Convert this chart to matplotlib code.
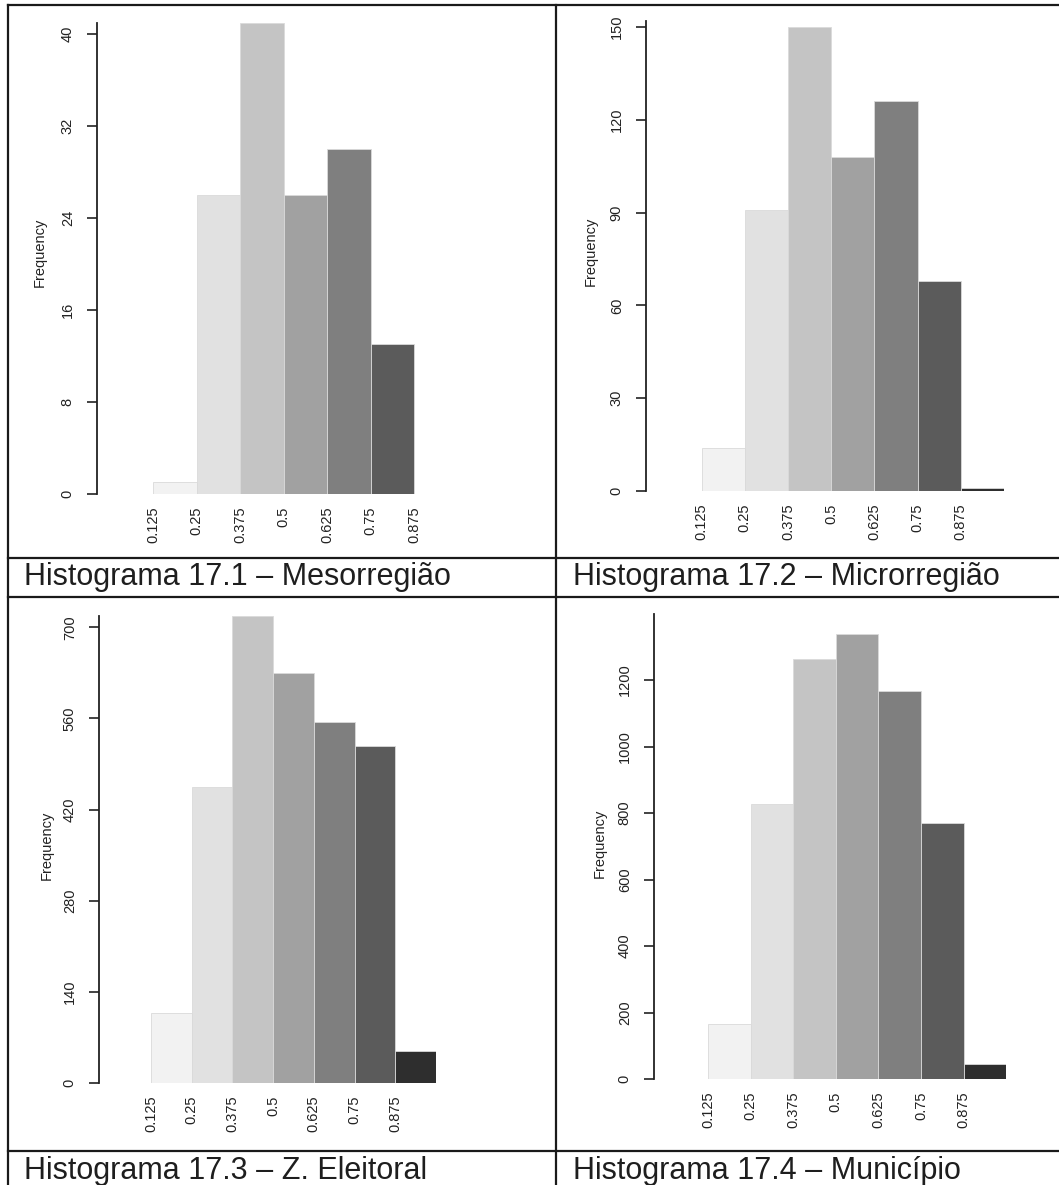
import numpy as np
import matplotlib
matplotlib.use("Agg")
import matplotlib.pyplot as plt
from matplotlib.lines import Line2D

plt.rcParams['font.family'] = ['Liberation Sans', 'DejaVu Sans']

# data
edges = [0.125, 0.25, 0.375, 0.5, 0.625, 0.75, 0.875, 1.0]
tick_labels = ["0.125", "0.25", "0.375", "0.5", "0.625", "0.75", "0.875"]
grays = ["#f2f2f2", "#e1e1e1", "#c4c4c4", "#a1a1a1", "#7f7f7f", "#5b5b5b", "#2e2e2e"]

meso = [1, 26, 41, 26, 30, 13]
micro = [14, 91, 150, 108, 126, 68, 1]
zona = [108, 455, 717, 630, 555, 518, 49]
muni = [166, 827, 1264, 1339, 1168, 770, 46]

meso_ticks = [0, 8, 16, 24, 32, 40]
micro_ticks = [0, 30, 60, 90, 120, 150]
zona_ticks = [0, 140, 280, 420, 560, 700]
muni_ticks = [0, 200, 400, 600, 800, 1000, 1200]

captions = ["Histograma 17.1 – Mesorregião", "Histograma 17.2 – Microrregião",
            "Histograma 17.3 – Z. Eleitoral", "Histograma 17.4 – Município"]

W, H = 1059, 1185
fig = plt.figure(figsize=(W / 100, H / 100), dpi=100)

def px(x, y):
    return x / W, 1 - y / H

# panel layout in pixels: x of first edge, px per bin, y of zero, px per unit,
# y limit, top of axis line, x of axis line, frequency label x
panels = [
    (meso, meso_ticks, 153, 43.5, 494, 11.5, 42, 41, 97, 40),
    (micro, micro_ticks, 701.5, 43.2, 491, 3.093, 155, 152, 646, 591),
    (zona, zona_ticks, 151, 40.7, 1083, 0.651, 730, 717, 99, 47),
    (muni, muni_ticks, 708, 42.6, 1079, 0.3325, 1420, 1400, 654, 600),
]

for counts, yt, x0, bw, y0, sc, ytop, atop, axx, flx in panels:
    left, bottom = px(x0, y0)
    w = 7 * bw / W
    h = ytop * sc / H
    ax = fig.add_axes([left, bottom, w, h])
    n = len(counts)
    ax.bar(edges[:n], counts, width=0.125, align='edge', color=grays[:n],
           edgecolor='#dadada', linewidth=0.6)
    ax.set_xlim(0.125, 1.0)
    ax.set_ylim(0, ytop)
    for s in ['top', 'right', 'bottom']:
        ax.spines[s].set_visible(False)
    ax.spines['left'].set_bounds(0, atop)
    ax.spines['left'].set_position(('outward', (x0 - axx) * 0.72))
    ax.spines['left'].set_linewidth(1.3)
    ax.spines['left'].set_color('#222222')
    ax.set_yticks(yt)
    ax.set_yticklabels([str(v) for v in yt], rotation=90, va='center')
    ax.tick_params(axis='y', length=7, width=1.2, pad=9, labelsize=10.5,
                   colors='#222222')
    ax.set_xticks(edges[:7])
    ax.set_xticklabels(tick_labels, rotation=90, va='top', ha='center')
    ax.tick_params(axis='x', length=0, pad=9, labelsize=10.5, colors='#222222')
    fx, fy = px(flx, y0 - ytop * sc / 2)
    fig.text(fx, fy, "Frequency", rotation=90, ha='center', va='center',
             fontsize=10.5, color='#222222')

# table lines
lc = '#1a1a1a'
for y in [5, 558, 597, 1151]:
    fig.add_artist(Line2D([8 / W, 1.0], [1 - y / H, 1 - y / H], color=lc, lw=1.6))
for x in [8, 556]:
    fig.add_artist(Line2D([x / W, x / W], [1 - 5 / H, 0], color=lc, lw=1.6))

# captions
for i, (cx, cy) in enumerate([(24, 585), (573, 585), (24, 1179), (573, 1179)]):
    fx, fy = px(cx, cy)
    fig.text(fx, fy, captions[i], ha='left', va='baseline', fontsize=22,
             color='#1e1e1e')

fig.savefig("out.png", dpi=100)
